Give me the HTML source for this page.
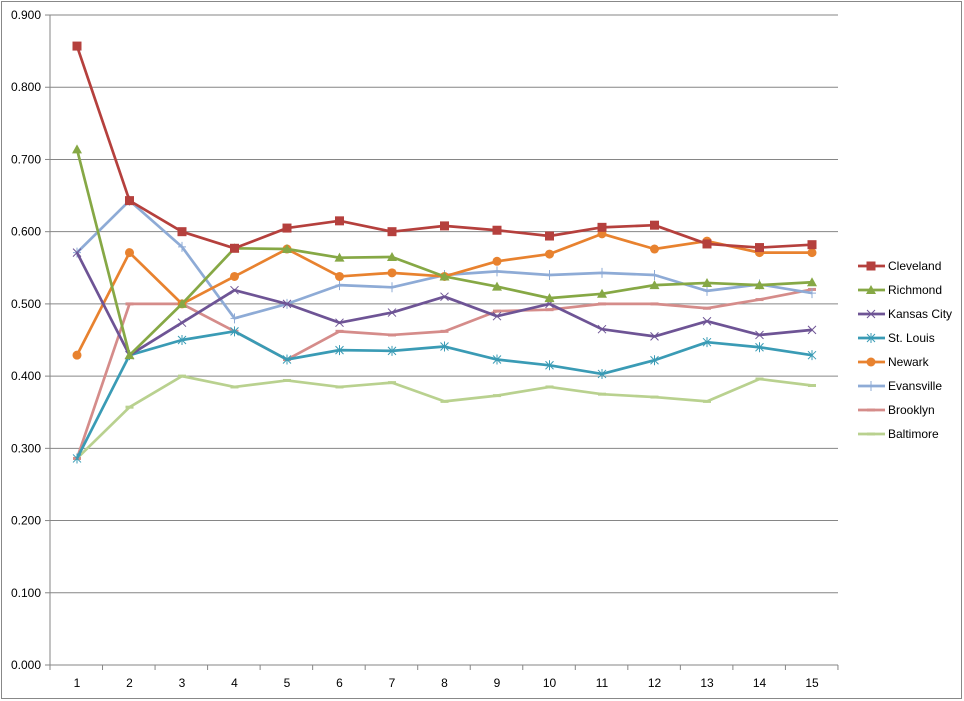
<!DOCTYPE html>
<html><head><meta charset="utf-8"><style>
html,body{margin:0;padding:0;background:#fff}
svg{display:block;font-family:"Liberation Sans",sans-serif}
</style></head><body>
<svg id="c" width="964" height="701" xmlns="http://www.w3.org/2000/svg"></svg>
<script>
const s=document.getElementById('c');let h='';
h+='<rect x="1.5" y="1.5" width="960" height="697" fill="#fff" stroke="#888"/>';
const Y=v=>665-v*722.2, X=i=>77+i*52.5;
for(let k=0;k<=9;k++){const y=Y(k/10);
 h+=`<line x1="50" x2="838" y1="${y}" y2="${y}" stroke="#868686" stroke-width="1"/>`;
 h+=`<line x1="45" x2="50" y1="${y}" y2="${y}" stroke="#868686"/>`;
 h+=`<text x="41" y="${y+4}" font-size="12" text-anchor="end">${(k/10).toFixed(3)}</text>`;}
h+='<line x1="50" x2="50" y1="15" y2="665" stroke="#868686"/>';
for(let i=0;i<=15;i++){const x=50+i*52.53;h+=`<line x1="${x}" x2="${x}" y1="665" y2="670" stroke="#868686"/>`;}
for(let i=0;i<15;i++)h+=`<text x="${X(i)}" y="687" font-size="12" text-anchor="middle">${i+1}</text>`;
const S=[
["Cleveland","#B5403D","sq",[.857,.643,.600,.577,.605,.615,.600,.608,.602,.594,.606,.609,.583,.578,.582]],
["Richmond","#86A845","tri",[.714,.429,.500,.577,.576,.564,.565,.538,.524,.508,.514,.526,.529,.526,.530]],
["Kansas City","#6E5495","x",[.571,.429,.474,.519,.500,.474,.488,.510,.483,.500,.465,.455,.476,.457,.464]],
["St. Louis","#3A9BB5","star",[.286,.429,.450,.462,.423,.436,.435,.441,.423,.415,.403,.422,.447,.440,.429]],
["Newark","#E8822F","circ",[.429,.571,.500,.538,.576,.538,.543,.538,.559,.569,.597,.576,.587,.571,.571]],
["Evansville","#8EABD6","plus",[.571,.643,.579,.480,.500,.526,.523,.540,.545,.540,.543,.540,.518,.527,.515]],
["Brooklyn","#D58C8A","dash",[.286,.500,.500,.462,.423,.462,.457,.462,.490,.492,.500,.500,.494,.506,.520]],
["Baltimore","#B9D18F","dash",[.286,.357,.400,.385,.394,.385,.391,.365,.373,.385,.375,.371,.365,.396,.387]]];
function mk(t,c,x,y){
 if(t=="sq")return `<rect x="${x-4.5}" y="${y-4.5}" width="9" height="9" fill="${c}"/>`;
 if(t=="tri")return `<polygon points="${x},${y-5} ${x+5},${y+4} ${x-5},${y+4}" fill="${c}"/>`;
 if(t=="circ")return `<circle cx="${x}" cy="${y}" r="4.5" fill="${c}"/>`;
 if(t=="x")return `<path d="M${x-4} ${y-4}L${x+4} ${y+4}M${x-4} ${y+4}L${x+4} ${y-4}" stroke="${c}" stroke-width="1"/>`;
 if(t=="star")return `<path d="M${x-4} ${y-4}L${x+4} ${y+4}M${x-4} ${y+4}L${x+4} ${y-4}M${x} ${y-5}L${x} ${y+5}" stroke="${c}" stroke-width="1"/>`;
 if(t=="plus")return `<path d="M${x-4} ${y}L${x+4} ${y}M${x} ${y-5}L${x} ${y+5}" stroke="${c}" stroke-width="1"/>`;
 return `<path d="M${x-4} ${y}L${x+4} ${y}" stroke="${c}" stroke-width="3"/>`;}
S.slice().reverse().forEach(([n,c,t,d])=>{
 h+=`<polyline fill="none" stroke="${c}" stroke-width="2.7" stroke-linejoin="round" points="${d.map((v,i)=>X(i)+','+Y(v)).join(' ')}"/>`;
 d.forEach((v,i)=>h+=mk(t,c,X(i),Y(v)));});
S.forEach(([n,c,t],k)=>{const y=266+k*24;
 h+=`<line x1="858" x2="885" y1="${y}" y2="${y}" stroke="${c}" stroke-width="2.7"/>`+mk(t,c,871,y);
 h+=`<text x="888" y="${y+4}" font-size="12">${n}</text>`;});
s.innerHTML=h;
</script>
</body></html>
